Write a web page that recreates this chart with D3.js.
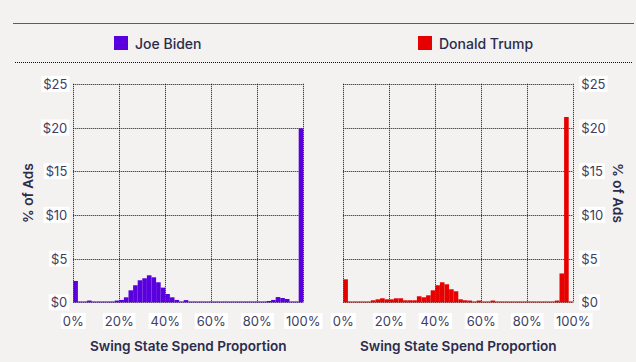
<!DOCTYPE html>
<html>
<head>
<meta charset="utf-8">
<script src="https://cdn.jsdelivr.net/npm/d3@7"></script>
<style>
  html, body { margin: 0; padding: 0; background: #f3f2f0; }
  svg { display: block; font-family: Inter, "Noto Sans", sans-serif; }
</style>
</head>
<body>
<svg id="chart" width="636" height="362"></svg>
<script>
// bins of 2% swing-state spend share, values = % of ads
const binSize = 0.02;
const bidenShares = [
  2.44, 0.1, 0.1, 0.2, 0.1, 0.1, 0.1, 0.1, 0.1, 0.2,
  0.27, 0.57, 1.37, 1.95, 2.52, 2.75, 3.09, 2.86, 2.29, 1.68,
  0.95, 0.57, 0.27, 0.1, 0.25, 0.1, 0.1, 0.1, 0.1, 0.1,
  0.1, 0.1, 0.1, 0.1, 0.1, 0.1, 0.1, 0.1, 0.1, 0.1,
  0.1, 0.1, 0.15, 0.27, 0.6, 0.49, 0.38, 0.1, 0.1, 19.9
];
const trumpShares = [
  2.63, 0.1, 0.1, 0.1, 0.1, 0.1, 0.23, 0.34, 0.46, 0.34,
  0.34, 0.46, 0.46, 0.23, 0.23, 0.23, 0.69, 0.57, 0.8, 1.37,
  1.95, 2.29, 2.06, 1.49, 1.26, 0.34, 0.23, 0.2, 0.1, 0.2,
  0.1, 0.1, 0.2, 0.1, 0.1, 0.1, 0.1, 0.1, 0.1, 0.1,
  0.1, 0.1, 0.1, 0.1, 0.1, 0.1, 0.2, 3.3, 21.2, 0.1
];
const candidates = ["Joe Biden", "Donald Trump"];
const colors = ["#5a00de", "#e60000"];
const yTicks = [0, 5, 10, 15, 20, 25];
const xTicks = [0, 0.2, 0.4, 0.6, 0.8, 1];

const svg = d3.select("#chart");
const ink = "#2b2c4c";
const labelInk = "#3e405f";

// header lines
svg.append("line")
  .attr("x1", 13).attr("x2", 634).attr("y1", 23.5).attr("y2", 23.5)
  .attr("stroke", "#f2125a").attr("stroke-width", 1.2);
svg.append("line")
  .attr("x1", 15).attr("x2", 632).attr("y1", 62.5).attr("y2", 62.5)
  .attr("stroke", "#111").attr("stroke-dasharray", "1,1");

// legend
const legendX = [114, 418];
candidates.forEach((name, i) => {
  svg.append("rect")
    .attr("x", legendX[i]).attr("y", 36)
    .attr("width", 14).attr("height", 14)
    .attr("fill", colors[i]);
  svg.append("text")
    .attr("x", legendX[i] + 21).attr("y", 43)
    .attr("dominant-baseline", "central")
    .attr("font-size", 14).attr("font-weight", 500)
    .attr("fill", ink)
    .text(name);
});

const y = d3.scaleLinear().domain([0, 25]).range([302.3, 83.8]);

function labelWithBox(g, x, yPos, text, anchor) {
  const t = g.append("text")
    .attr("x", x).attr("y", yPos)
    .attr("text-anchor", anchor)
    .attr("dominant-baseline", "central")
    .attr("font-size", 13)
    .attr("fill", labelInk)
    .text(text);
  const b = t.node().getBBox();
  g.insert("rect", "text")
    .attr("x", b.x - 2).attr("y", b.y)
    .attr("width", b.width + 4).attr("height", b.height)
    .attr("fill", "#fff");
}

function panel(values, color, x0, side) {
  const x = d3.scaleLinear().domain([0, 1]).range([x0, x0 + 230]);
  const g = svg.append("g");

  // grid
  g.selectAll(".hgrid").data(yTicks).join("line")
    .attr("x1", x(0)).attr("x2", x(1))
    .attr("y1", d => Math.round(y(d)) + 0.5).attr("y2", d => Math.round(y(d)) + 0.5)
    .attr("stroke", "#111").attr("stroke-dasharray", "1,1");
  g.selectAll(".vgrid").data(xTicks).join("line")
    .attr("x1", d => Math.round(x(d)) + 0.5).attr("x2", d => Math.round(x(d)) + 0.5)
    .attr("y1", y(25)).attr("y2", y(0))
    .attr("stroke", "#111").attr("stroke-dasharray", "1,1");

  // bars
  g.selectAll(".bar").data(values).join("rect")
    .attr("x", (d, i) => x(i * binSize))
    .attr("width", x(binSize) - x(0))
    .attr("y", d => y(d))
    .attr("height", d => y(0) - y(d))
    .attr("fill", color);

  // y tick labels
  const yl = svg.append("g");
  yTicks.forEach(t => {
    const tg = yl.append("g");
    if (side === "left") labelWithBox(tg, x(0) - 6, y(t), "$" + t, "end");
    else labelWithBox(tg, x(1) + 8, y(t), "$" + t, "start");
  });

  // x tick labels
  const xl = svg.append("g");
  xTicks.forEach(t => {
    labelWithBox(xl.append("g"), x(t), 321, d3.format(".0%")(t), "middle");
  });

  // axis titles
  svg.append("text")
    .attr("x", (x(0) + x(1)) / 2).attr("y", 346)
    .attr("text-anchor", "middle").attr("dominant-baseline", "central")
    .attr("font-size", 13.6).attr("font-weight", 600).attr("fill", ink)
    .text("Swing State Spend Proportion");

  const tx = side === "left" ? 28 : 618;
  svg.append("text")
    .attr("transform", `translate(${tx},${y(12.5)}) rotate(${side === "left" ? -90 : 90})`)
    .attr("text-anchor", "middle").attr("dominant-baseline", "central")
    .attr("font-size", 13.6).attr("font-weight", 600).attr("fill", ink)
    .text("% of Ads");
}

panel(bidenShares, colors[0], 73.3, "left");
panel(trumpShares, colors[1], 343.3, "right");
</script>
</body>
</html>
